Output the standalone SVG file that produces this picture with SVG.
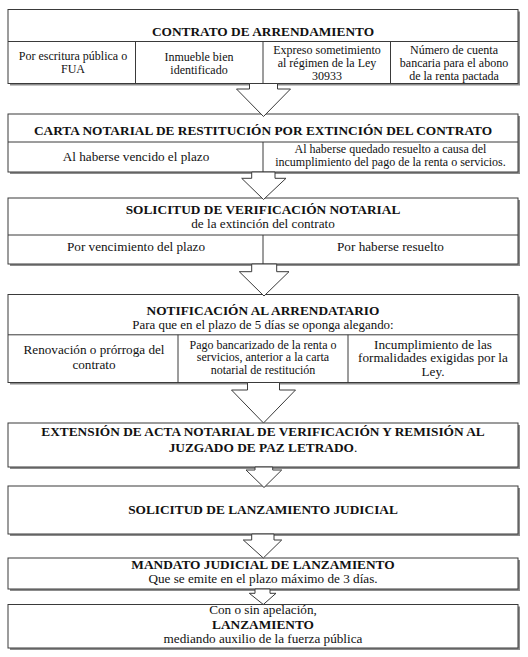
<svg xmlns="http://www.w3.org/2000/svg" width="528" height="657" viewBox="0 0 528 657">
<style>
  .box { fill: #ffffff; stroke: #3a3a3a; stroke-width: 1; }
  .shadow { fill: #8c8c8c; }
  .ln { stroke: #3a3a3a; stroke-width: 1; fill: none; }
  .arrow { fill: #ffffff; stroke: #3a3a3a; stroke-width: 1; stroke-linejoin: miter; }
  text { font-family: 'Liberation Serif', 'Times New Roman', Times, serif; fill: #111111; text-anchor: middle; }
  .t { font-size: 13.33px; font-weight: bold; }
  .m { font-size: 13.2px; }
  .xs { font-size: 12px; }
</style>
<rect width="528" height="657" fill="#ffffff"/>

<g id="node-contrato">
  <rect class="shadow" x="10" y="11.5" width="510" height="74"/>
  <rect class="box" x="8" y="9.5" width="510" height="74"/>
  <line class="ln" x1="8" y1="41.5" x2="518" y2="41.5"/>
  <line class="ln" x1="135.5" y1="41.5" x2="135.5" y2="83.5"/>
  <line class="ln" x1="263" y1="41.5" x2="263" y2="83.5"/>
  <line class="ln" x1="390.5" y1="41.5" x2="390.5" y2="83.5"/>
  <text class="t" x="263" y="36">CONTRATO DE ARRENDAMIENTO</text>
  <text class="xs" x="73" y="60">Por escritura pública o</text>
  <text class="xs" x="73" y="72.5">FUA</text>
  <text class="xs" x="199" y="61">Inmueble bien</text>
  <text class="xs" x="199" y="73.5">identificado</text>
  <text class="xs" x="327" y="53.7">Expreso sometimiento</text>
  <text class="xs" x="327" y="66.6">al régimen de la Ley</text>
  <text class="xs" x="327" y="79.5">30933</text>
  <text class="xs" x="454" y="53.7">Número de cuenta</text>
  <text class="xs" x="454" y="66.6">bancaria para el abono</text>
  <text class="xs" x="454" y="79.5">de la renta pactada</text>
</g>

<g id="node-carta">
  <rect class="shadow" x="10" y="116" width="510" height="58"/>
  <rect class="box" x="8" y="114" width="510" height="58"/>
  <line class="ln" x1="8" y1="142" x2="518" y2="142"/>
  <line class="ln" x1="263" y1="142" x2="263" y2="172"/>
  <text class="t" x="263" y="134.5">CARTA NOTARIAL DE RESTITUCIÓN POR EXTINCIÓN DEL CONTRATO</text>
  <text class="m" x="136" y="160.5">Al haberse vencido el plazo</text>
  <text class="xs" x="390.5" y="152.5">Al haberse quedado resuelto a causa del</text>
  <text class="xs" x="390.5" y="165.5">incumplimiento del pago de la renta o servicios.</text>
</g>

<g id="node-solicitud-verificacion">
  <rect class="shadow" x="10" y="200" width="510" height="66"/>
  <rect class="box" x="8" y="198" width="510" height="66"/>
  <line class="ln" x1="8" y1="235" x2="518" y2="235"/>
  <line class="ln" x1="263" y1="235" x2="263" y2="264"/>
  <text class="t" x="263" y="214">SOLICITUD DE VERIFICACIÓN NOTARIAL</text>
  <text class="m" x="263" y="228">de la extinción del contrato</text>
  <text class="m" x="136" y="251">Por vencimiento del plazo</text>
  <text class="m" x="390.5" y="251">Por haberse resuelto</text>
</g>

<g id="node-notificacion">
  <rect class="shadow" x="10" y="296.5" width="510" height="88"/>
  <rect class="box" x="8" y="294.5" width="510" height="88"/>
  <line class="ln" x1="8" y1="334.8" x2="518" y2="334.8"/>
  <line class="ln" x1="178" y1="334.8" x2="178" y2="382.5"/>
  <line class="ln" x1="348" y1="334.8" x2="348" y2="382.5"/>
  <text class="t" x="263" y="315">NOTIFICACIÓN AL ARRENDATARIO</text>
  <text x="263" y="329" font-size="12.9px">Para que en el plazo de 5 días se oponga alegando:</text>
  <text class="m" x="94" y="354">Renovación o prórroga del</text>
  <text class="m" x="94" y="368.5">contrato</text>
  <text class="xs" x="263" y="348.5">Pago bancarizado de la renta o</text>
  <text class="xs" x="263" y="361">servicios, anterior a la carta</text>
  <text class="xs" x="263" y="373.5">notarial de restitución</text>
  <text class="m" x="433" y="348.5">Incumplimiento de las</text>
  <text class="m" x="433" y="362">formalidades exigidas por la</text>
  <text class="m" x="433" y="375.5">Ley.</text>
</g>

<g id="node-extension">
  <rect class="shadow" x="10" y="425" width="510" height="44"/>
  <rect class="box" x="8" y="423" width="510" height="44"/>
  <text class="t" x="263" y="436">EXTENSIÓN DE ACTA NOTARIAL DE VERIFICACIÓN Y REMISIÓN AL</text>
  <text class="t" x="263" y="451.5">JUZGADO DE PAZ LETRADO<tspan font-weight="normal">.</tspan></text>
</g>

<g id="node-solicitud-lanzamiento">
  <rect class="shadow" x="10" y="488" width="510" height="48"/>
  <rect class="box" x="8" y="486" width="510" height="48"/>
  <text class="t" x="263" y="513.6">SOLICITUD DE LANZAMIENTO JUDICIAL</text>
</g>

<g id="node-mandato">
  <rect class="shadow" x="10" y="560" width="510" height="31"/>
  <rect class="box" x="8" y="558" width="510" height="31"/>
  <text class="t" x="263" y="569">MANDATO JUDICIAL DE LANZAMIENTO</text>
  <text class="m" x="263" y="583">Que se emite en el plazo máximo de 3 días.</text>
</g>

<g id="node-lanzamiento">
  <rect class="shadow" x="10" y="606.5" width="510" height="43.5"/>
  <rect class="box" x="8" y="604.5" width="510" height="43.5"/>
  <text class="m" x="263" y="614">Con o sin apelación,</text>
  <text class="t" x="263" y="628.5">LANZAMIENTO</text>
  <text class="m" x="263" y="643.3">mediando auxilio de la fuerza pública</text>
</g>

<g id="connectors">
  <polygon class="arrow" points="249.5,83.5 277.5,83.5 277.5,89 290.5,89 263.5,116.5 236.5,89 249.5,89"/>
  <polygon class="arrow" points="251.7,172 275,172 275,178.3 286,178.3 263.5,199.5 241.7,178.3 251.7,178.3"/>
  <polygon class="arrow" points="251.7,264 276.7,264 276.7,271.7 289,271.7 264,296 239.3,271.7 251.7,271.7"/>
  <polygon class="arrow" points="247.5,382.5 279.5,382.5 279.5,390 295.5,390 263.5,423 231.5,390 247.5,390"/>
  <polygon class="arrow" points="255,467 272.7,467 272.7,470 281.7,470 264,487.5 246,470 255,470"/>
  <polygon class="arrow" points="251.7,534 274,534 274,540 281.7,540 263.3,558 243.3,540 251.7,540"/>
  <polygon class="arrow" points="255,589 270,589 270,593.3 276,593.3 263.3,604.5 249.3,593.3 255,593.3"/>
</g>
</svg>
